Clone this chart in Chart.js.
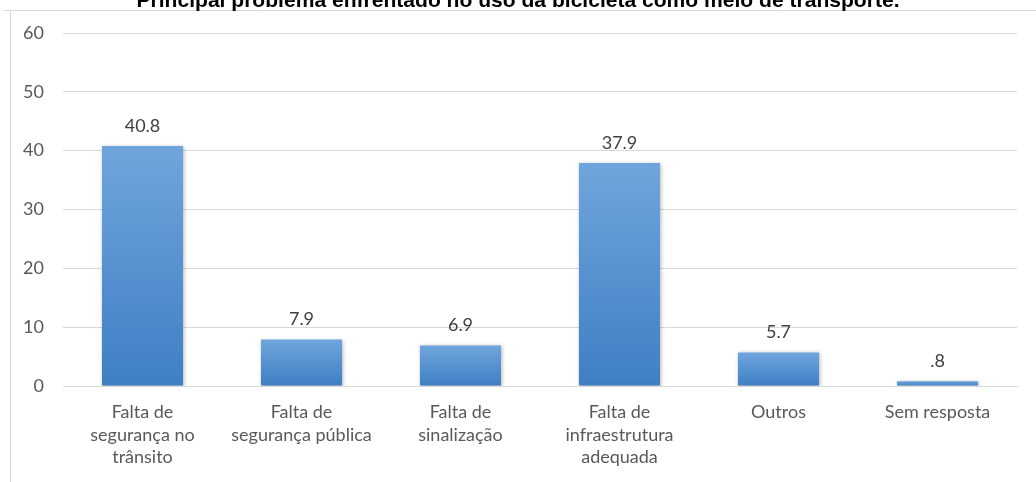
<!DOCTYPE html>
<html>
<head>
<meta charset="utf-8">
<script src="https://cdn.jsdelivr.net/npm/chart.js@4.4.1/dist/chart.umd.min.js"></script>
<style>
  html, body { margin: 0; padding: 0; background: #fff; }
  #wrap { width: 1036px; height: 482px; position: relative; }
</style>
</head>
<body>
<div id="wrap"><canvas id="chart"></canvas></div>
<script>
const titleText = "Principal problema enfrentado no uso da bicicleta como meio de transporte.";
const categories = [
  ["Falta de", "segurança no", "trânsito"],
  ["Falta de", "segurança pública"],
  ["Falta de", "sinalização"],
  ["Falta de", "infraestrutura", "adequada"],
  ["Outros"],
  ["Sem resposta"],
];
const values = [40.8, 7.9, 6.9, 37.9, 5.7, 0.8];
const yTicks = [0, 10, 20, 30, 40, 50, 60];

const textColor = "#595959";
const gridColor = "#d9d9d9";
const font = "Lato, 'Open Sans', sans-serif";

// bar fill: lighter at the top, darker at the base, one gradient per bar
function barFill(ctx) {
  const chart = ctx.chart;
  if (!chart.chartArea || ctx.parsed == null) return "#5b9bd5";
  const y = chart.scales.y;
  const top = y.getPixelForValue(ctx.parsed.y);
  const base = y.getPixelForValue(0);
  if (!isFinite(top) || base - top < 1) return "#5b9bd5";
  const g = chart.ctx.createLinearGradient(0, top, 0, base);
  g.addColorStop(0, "#70a5dc");
  g.addColorStop(1, "#3e7fc4");
  return g;
}

const frame = {
  id: "frame",
  beforeDraw(chart) {
    const c = chart.ctx;
    c.save();
    c.strokeStyle = gridColor;
    c.lineWidth = 1;
    c.beginPath();
    c.moveTo(3, 10.5);
    c.lineTo(chart.width + 2, 10.5);
    c.moveTo(10.5, 10);
    c.lineTo(10.5, chart.height + 2);
    c.stroke();
    c.restore();
  },
  afterDraw(chart) {
    // title sits half off the top edge, as in the source image
    const c = chart.ctx;
    c.save();
    c.fillStyle = "#000";
    c.font = "bold 20px 'Liberation Sans', Arial, sans-serif";
    c.textAlign = "center";
    c.textBaseline = "alphabetic";
    const w = c.measureText(titleText).width;
    c.translate(518, 7);
    c.scale(763 / w, 1);
    c.fillText(titleText, 0, 0);
    c.restore();
  },
};

const shadow = {
  id: "shadow",
  beforeDatasetDraw(chart) {
    const c = chart.ctx;
    c.save();
    c.shadowColor = "rgba(0,0,0,0.28)";
    c.shadowBlur = 4;
    c.shadowOffsetX = 1;
    c.shadowOffsetY = 1;
  },
  afterDatasetDraw(chart) {
    chart.ctx.restore();
  },
};

const valueLabels = {
  id: "valueLabels",
  afterDatasetsDraw(chart) {
    const c = chart.ctx;
    const meta = chart.getDatasetMeta(0);
    c.save();
    c.fillStyle = "#404040";
    c.font = "18px " + font;
    c.textAlign = "center";
    c.textBaseline = "middle";
    meta.data.forEach((bar, i) => {
      const txt = values[i].toFixed(1).replace(/^0\./, ".");
      c.fillText(txt, bar.x, bar.y - 20);
    });
    c.restore();
  },
};

new Chart(document.getElementById("chart"), {
  type: "bar",
  data: {
    labels: categories,
    datasets: [{
      data: values,
      backgroundColor: barFill,
      borderWidth: 0,
      barPercentage: 0.51,
      categoryPercentage: 1,
    }],
  },
  options: {
    responsive: true,
    maintainAspectRatio: false,
    animation: false,
    layout: { padding: { top: 33, right: 19, left: 0, bottom: 0 } },
    plugins: {
      legend: { display: false },
      tooltip: { enabled: false },
    },
    scales: {
      x: {
        grid: { display: false, drawTicks: false },
        border: { color: gridColor },
        ticks: {
          color: textColor,
          font: { family: font, size: 18, lineHeight: 1.25 },
          padding: 15,
          maxRotation: 0,
          autoSkip: false,
        },
        afterFit(axis) { axis.height = 96; },
      },
      y: {
        min: 0,
        max: 60,
        afterBuildTicks(axis) { axis.ticks = yTicks.map((v) => ({ value: v })); },
        grid: { color: gridColor, drawTicks: false },
        border: { display: false },
        ticks: {
          color: textColor,
          font: { family: font, size: 18 },
          padding: 19,
        },
        afterFit(axis) { axis.width = 63; },
      },
    },
  },
  plugins: [frame, shadow, valueLabels],
});
</script>
</body>
</html>
